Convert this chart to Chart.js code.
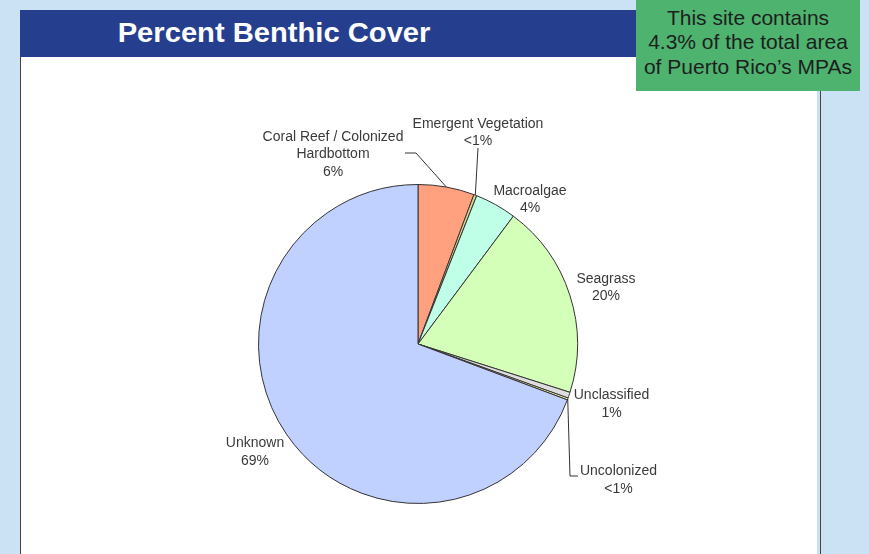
<!DOCTYPE html>
<html>
<head>
<meta charset="utf-8">
<script src="https://cdn.jsdelivr.net/npm/chart.js@4"></script>
<style>
  body { margin: 0; width: 869px; height: 554px; background: #cae2f4; position: relative; overflow: hidden; font-family: "Liberation Sans", Arial, sans-serif; }
  #panel { position: absolute; left: 20px; top: 10px; width: 796px; height: 544px; background: #fff; border-left: 1px solid #444; }
  #rline { position: absolute; left: 820px; top: 10px; width: 1px; height: 544px; background: #444; }
  #titlebar { position: absolute; left: 20px; top: 10px; width: 620px; height: 47px; background: #253f8e; }
  #title { position: absolute; left: 74px; top: 10px; width: 400px; height: 47px; line-height: 47px; text-align: center; color: #fff; font-weight: bold; font-size: 27px; transform: scaleX(1.08); transform-origin: 199.5px 0; }
  #note { position: absolute; left: 636px; top: 0; width: 224px; height: 91px; background: #4db36f; color: #1e1e1e; font-size: 21px; line-height: 24.5px; text-align: center; padding-top: 5.5px; box-sizing: border-box; }
  #chart { position: absolute; left: 0; top: 0; }
</style>
</head>
<body>
<div id="panel"></div>
<div id="rline"></div>
<div id="titlebar"></div>
<div id="title">Percent Benthic Cover</div>
<div id="note">This site contains<br>4.3% of the total area<br>of Puerto Rico’s MPAs</div>
<canvas id="chart" width="869" height="554"></canvas>
<script>
const categories = ["Coral Reef / Colonized Hardbottom", "Emergent Vegetation", "Macroalgae", "Seagrass", "Unclassified", "Uncolonized", "Unknown"];
const values = [5.7, 0.3, 4.2, 19.7, 0.6, 0.2, 69.3];
const pctLabels = ["6%", "<1%", "4%", "20%", "1%", "<1%", "69%"];
const nameLines = [["Coral Reef / Colonized", "Hardbottom"], ["Emergent Vegetation"], ["Macroalgae"], ["Seagrass"], ["Unclassified"], ["Uncolonized"], ["Unknown"]];

const colors = ["#ffa07f", "#d6d68f", "#bfffe8", "#d4ffb9", "#dddddd", "#ffffb0", "#c1d1ff"];

// label block centre, offset from pie centre (px)
const labelPos = [[-85, -189.5], [60, -211.5], [112, -144.5], [188, -56.5], [193.5, 60], [200.5, 136], [-163, 108]];
// leader lines: extra points after the arc edge point, offsets from pie centre
const leaders = [[[-2, -191], [-13, -191]], [[60, -196]], null, null, null, [[152, 132], [160, 132]], null];

const labelPlugin = {
  id: "sliceLabels",
  afterDatasetsDraw(chart) {
    const ctx = chart.ctx;
    const meta = chart.getDatasetMeta(0);
    ctx.save();
    ctx.font = "14px 'Liberation Sans', Arial, sans-serif";
    ctx.fillStyle = "#3a3a3a";
    ctx.textAlign = "center";
    ctx.textBaseline = "middle";
    ctx.strokeStyle = "#333";
    ctx.lineWidth = 1;
    meta.data.forEach((arc, i) => {
      const p = arc.getProps(["x", "y", "startAngle", "endAngle", "outerRadius"], true);
      const mid = (p.startAngle + p.endAngle) / 2;
      if (leaders[i]) {
        ctx.beginPath();
        ctx.moveTo(p.x + Math.cos(mid) * p.outerRadius, p.y + Math.sin(mid) * p.outerRadius);
        leaders[i].forEach(pt => ctx.lineTo(p.x + pt[0], p.y + pt[1]));
        ctx.stroke();
      }
      const lines = nameLines[i].concat([pctLabels[i]]);
      const lh = 17.5;
      const cx = p.x + labelPos[i][0];
      const cy = p.y + labelPos[i][1];
      lines.forEach((t, k) => {
        ctx.fillText(t, cx, cy + (k - (lines.length - 1) / 2) * lh);
      });
    });
    ctx.restore();
  }
};

new Chart(document.getElementById("chart").getContext("2d"), {
  type: "pie",
  data: {
    labels: categories,
    datasets: [{
      data: values,
      backgroundColor: colors,
      borderColor: "#333",
      borderWidth: 1
    }]
  },
  options: {
    responsive: false,
    animation: false,
    layout: { padding: { left: 258, right: 291, top: 183, bottom: 49 } },
    plugins: { legend: { display: false }, tooltip: { enabled: false } }
  },
  plugins: [labelPlugin]
});
</script>
</body>
</html>
